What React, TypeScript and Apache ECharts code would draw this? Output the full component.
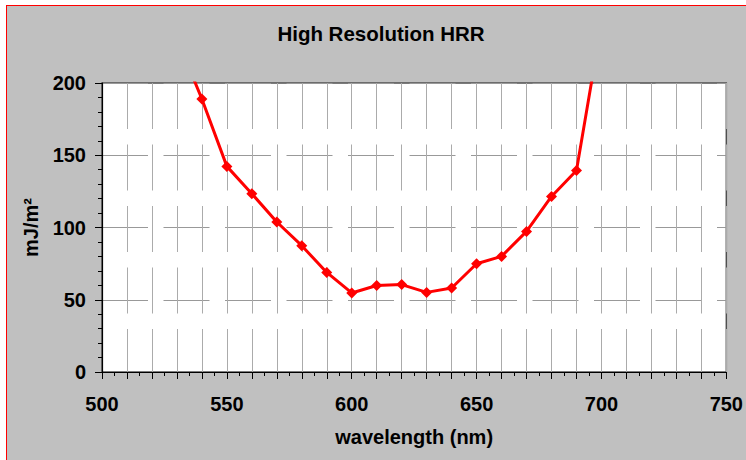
import React, { useEffect, useRef } from "react";
import * as echarts from "echarts";

const chartTitle = "High Resolution HRR";
const xAxisName = "wavelength (nm)";
const yAxisName = "mJ/m²";
const wavelengths = [530, 540, 550, 560, 570, 580, 590, 600, 610, 620, 630, 640, 650, 660, 670, 680, 690, 700];
const hrrValues = [231, 188.9, 142.3, 123.4, 103.8, 87.4, 68.9, 54.7, 59.9, 60.5, 55.1, 58.1, 74.9, 80.0, 97.3, 121.5, 139.5, 241];
const xRange = [500, 750];
const yRange = [0, 200];

const FONT = "'Liberation Sans', Arial, sans-serif";

export default function App() {
  const ref = useRef<HTMLDivElement>(null);
  useEffect(() => {
    if (!ref.current) return;
    const chart = echarts.init(ref.current, undefined, { renderer: "svg" });
    const data = wavelengths.map((w, i) => [w, hrrValues[i]]);
    chart.setOption({
      animation: false,
      backgroundColor: "transparent",
      graphic: [
        {
          type: "text",
          x: 381,
          y: 33,
          style: {
            text: chartTitle,
            fontFamily: FONT,
            fontWeight: "bold",
            fontSize: 20.5,
            fill: "#000",
            textAlign: "center",
            textVerticalAlign: "middle",
          },
        },
      ],
      grid: {
        left: 102,
        right: 19,
        top: 83,
        bottom: 88,
        show: true,
        backgroundColor: "#ffffff",
        borderColor: "#505050",
        borderWidth: 1.5,
      },
      xAxis: {
        type: "value",
        min: xRange[0],
        max: xRange[1],
        interval: 10,
        name: xAxisName,
        nameLocation: "middle",
        nameGap: 55,
        nameTextStyle: { fontFamily: FONT, fontWeight: "bold", fontSize: 20, color: "#000" },
        axisLine: { show: true, onZero: false, lineStyle: { color: "#000", width: 1.2 } },
        axisTick: { show: true, length: 7, lineStyle: { color: "#000", width: 1 } },
        minorTick: { show: true, splitNumber: 2, length: 4, lineStyle: { color: "#000", width: 1 } },
        axisLabel: {
          show: true,
          margin: 22,
          fontFamily: FONT,
          fontWeight: "bold",
          fontSize: 20,
          color: "#000",
          hideOverlap: false,
          formatter: (v: number) => (v % 50 === 0 ? String(v) : ""),
        },
        splitLine: { show: true, lineStyle: { color: "#ababab", width: 1, type: [46, 15.5] } },
      },
      yAxis: {
        type: "value",
        min: yRange[0],
        max: yRange[1],
        interval: 50,
        name: yAxisName,
        nameLocation: "middle",
        nameGap: 61,
        nameTextStyle: { fontFamily: FONT, fontWeight: "bold", fontSize: 20, color: "#000" },
        axisLine: { show: true, onZero: false, lineStyle: { color: "#000", width: 1.2 } },
        axisTick: { show: true, length: 7, lineStyle: { color: "#000", width: 1 } },
        minorTick: { show: true, splitNumber: 5, length: 4, lineStyle: { color: "#000", width: 1 } },
        axisLabel: {
          show: true,
          margin: 16,
          fontFamily: FONT,
          fontWeight: "bold",
          fontSize: 20,
          color: "#000",
        },
        splitLine: { show: true, lineStyle: { color: "#999999", width: 1, type: [46, 15.5] } },
      },
      series: [
        {
          type: "line",
          data,
          clip: true,
          symbol: "diamond",
          symbolSize: 11,
          itemStyle: { color: "#ff0000" },
          lineStyle: { color: "#ff0000", width: 3 },
          z: 5,
        },
      ],
    });
    return () => chart.dispose();
  }, []);

  return (
    <div style={{ position: "fixed", left: 0, top: 0, width: 746, height: 460, background: "#ffffff", overflow: "hidden" }}>
      <div
        style={{
          position: "absolute",
          left: 6,
          top: 5,
          width: 800,
          height: 500,
          background: "#c0c0c0",
          borderLeft: "1.5px solid #ff0000",
          borderTop: "1.5px solid #ff0000",
        }}
      />
      <div ref={ref} style={{ position: "absolute", left: 0, top: 0, width: 746, height: 460 }} />
    </div>
  );
}
